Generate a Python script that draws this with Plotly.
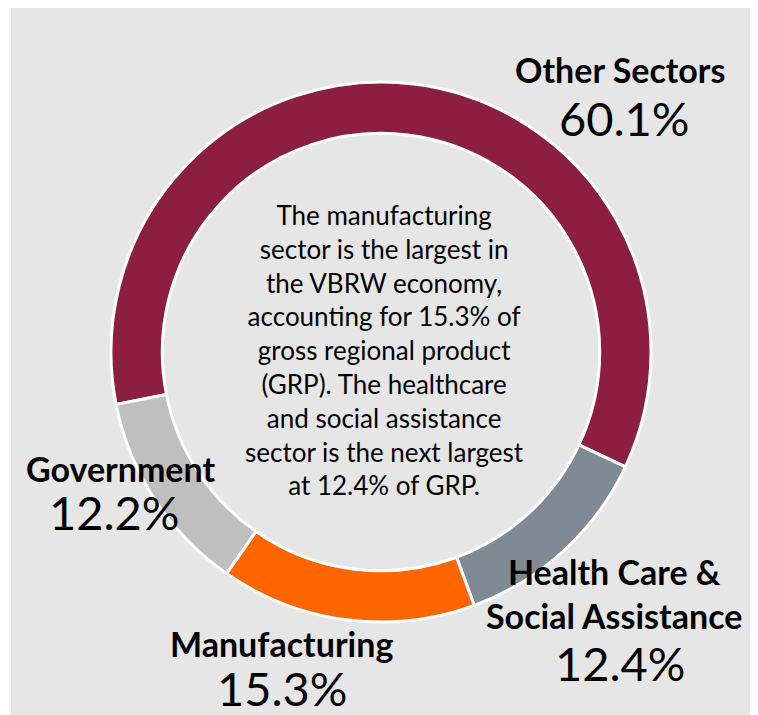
import plotly.graph_objects as go

# ---- data ----
sectors = ["Other Sectors", "Health Care &<br>Social Assistance", "Manufacturing", "Government"]
shares = [60.1, 12.4, 15.3, 12.2]
colors = ["#8B1E41", "#7F8A94", "#FF6600", "#BFBFBF"]
center_text = ("The manufacturing<br>sector is the largest in<br>the VBRW economy,<br>"
               "accounting for 15.3% of<br>gross regional product<br>(GRP). The healthcare<br>"
               "and social assistance<br>sector is the next largest<br>at 12.4% of GRP.")

W, H = 758, 715
OFF = 8  # page body margin in the browser
FONT = "Lato"


def px(sx):
    return (sx - OFF) / W


def py(sy):
    return 1 - (sy - OFF) / H


# label anchor positions in screen pixels (style only): name centre, value centre
name_pos = [(620, 70), (614, 593), (281, 643), (120, 468)]
value_pos = [(624, 118), (620, 663), (282, 688), (114, 512)]

ring_cx, ring_cy, ring_r = 381, 352, 270

fig = go.Figure()
fig.add_trace(go.Pie(
    labels=sectors, values=shares, sort=False, direction="clockwise",
    rotation=258.8, hole=0.81, textinfo="none", hoverinfo="label+percent",
    marker=dict(colors=colors, line=dict(color="white", width=3)),
    domain=dict(x=[px(ring_cx - ring_r), px(ring_cx + ring_r)],
                y=[py(ring_cy + ring_r), py(ring_cy - ring_r)]),
    showlegend=False,
))

# background panel
fig.add_shape(type="rect", xref="paper", yref="paper", x0=px(11), x1=px(755),
              y0=-0.05, y1=1.0, fillcolor="#E6E6E6", line=dict(width=0), layer="below")

annotations = []
for name, val, (nx, ny), (vx, vy) in zip(sectors, shares, name_pos, value_pos):
    annotations.append(dict(
        x=px(nx), y=py(ny), xref="paper", yref="paper", showarrow=False,
        xanchor="center", yanchor="middle", align="center", borderpad=0,
        text=f"<b>{name}</b>", font=dict(family=FONT, size=34, color="black")))
    annotations.append(dict(
        x=px(vx), y=py(vy), xref="paper", yref="paper", showarrow=False,
        xanchor="center", yanchor="middle", align="center", borderpad=0,
        text=f"{val:.1f}%", font=dict(family=FONT, size=47, color="black")))

annotations.append(dict(
    x=px(384), y=py(350), xref="paper", yref="paper", showarrow=False,
    xanchor="center", yanchor="middle", align="center", text=center_text,
    font=dict(family=FONT, size=26, color="black")))

fig.update_layout(
    width=W, height=H, margin=dict(l=0, r=0, t=0, b=0),
    paper_bgcolor="white", plot_bgcolor="white",
    annotations=annotations,
)

fig.write_html("out.html")
